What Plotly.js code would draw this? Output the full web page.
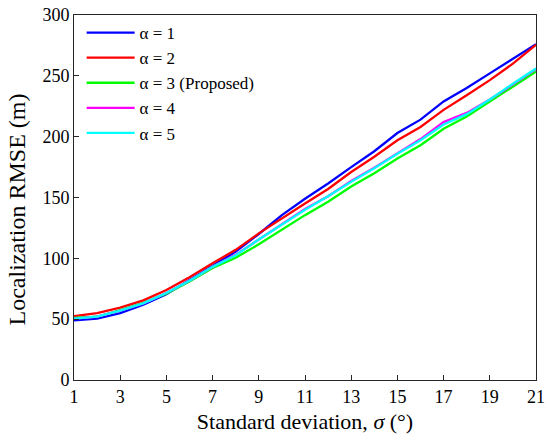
<!DOCTYPE html>
<html>
<head>
<meta charset="utf-8">
<script src="https://cdn.plot.ly/plotly-3.0.1.min.js"></script>
<style>html,body{margin:0;padding:0;background:#fff;}#chart{width:550px;height:444px;}</style>
</head>
<body>
<div id="chart"></div>
<script>
const sigma = [1,2,3,4,5,6,7,8,9,10,11,12,13,14,15,16,17,18,19,20,21];
const alpha1 = [49,50.5,55,62,70.5,82,94,105.5,120,135.5,149,161.5,175,188,203,214,229,240,252,264,276];
const alpha2 = [52.5,55,59.5,65.5,74,84.5,96,107,120.5,133,145,157,171,183.5,197,208,222,234,246.5,260,275.5];
const alpha3 = [51,52,57.5,63.5,71,81,92,100.5,111.5,123.5,135.5,146.5,159,170,182,193,206.5,216.5,229,241,253.5];
const alpha4 = [50.5,52,57,63,71.5,81.5,93,103,115.5,128,140.5,151,163.5,174.5,186.5,198,212,219.5,230.5,243,255.5];
const alpha5 = [50.5,52,57,63,71.5,81.5,93,102.5,115.5,128,140,151,163,174,186,197,210,218.5,230.5,243.5,256];
const seriesNames = ['α = 1','α = 2','α = 3 (Proposed)','α = 4','α = 5'];
const seriesColors = ['#0000ff','#ff0000','#00ff00','#ff00ff','#00ffff'];
const xTicks = [1,3,5,7,9,11,13,15,17,19,21];
const yTicks = [0,50,100,150,200,250,300];
const topTicks = [1,5,9,13,17,21];
const rightTicks = [0,60,120,180,240,300];

const serif = 'Liberation Serif';
const axCol = '#262626';
const allY = [alpha1,alpha2,alpha3,alpha4,alpha5];
const traces = allY.map((y,i)=>({
  x: sigma, y: y, type:'scatter', mode:'lines', name: seriesNames[i],
  line:{color: seriesColors[i], width:2.3}
}));

const layout = {
  width:550, height:444,
  margin:{l:74, r:14, t:15, b:64},
  paper_bgcolor:'#fff', plot_bgcolor:'#fff',
  font:{family:serif, color:'#000'},
  showlegend:true,
  legend:{x:0.0165, y:1.0, xanchor:'left', yanchor:'top', bgcolor:'rgba(255,255,255,0)',
          itemwidth:48,
          font:{family:serif, size:17, color:'#000'}, tracegroupgap:0},
  xaxis:{range:[1,21], tickvals:xTicks, ticktext:xTicks.map(String), ticks:'inside', ticklen:5,
         tickcolor:axCol, showline:true, linecolor:axCol, linewidth:1, mirror:true,
         showgrid:false, zeroline:false,
         tickfont:{family:serif, size:18, color:'#000'},
         title:{text:'Standard deviation, <i>σ</i> (°)', font:{family:serif, size:22, color:'#000'}, standoff:8}},
  yaxis:{range:[0,300], tickvals:yTicks, ticktext:yTicks.map(String), ticks:'inside', ticklen:5,
         tickcolor:axCol, showline:true, linecolor:axCol, linewidth:1, mirror:true,
         showgrid:false, zeroline:false,
         tickfont:{family:serif, size:18, color:'#000'},
         title:{text:'Localization RMSE (m)&nbsp;&nbsp;&nbsp;&nbsp;', font:{family:serif, size:24, color:'#000'}, standoff:10}},
  xaxis2:{overlaying:'x', side:'top', anchor:'y', range:[1,21], tickvals:topTicks, showticklabels:false,
          ticks:'inside', ticklen:5, tickcolor:axCol, showline:false, showgrid:false, zeroline:false},
  yaxis2:{overlaying:'y', side:'right', anchor:'x', range:[0,300], tickvals:rightTicks, showticklabels:false,
          ticks:'inside', ticklen:5, tickcolor:axCol, showline:false, showgrid:false, zeroline:false}
};
Plotly.newPlot('chart', traces, layout, {displayModeBar:false, staticPlot:true});
</script>
</body>
</html>
